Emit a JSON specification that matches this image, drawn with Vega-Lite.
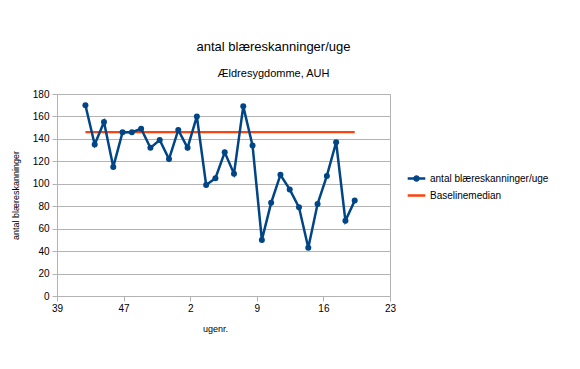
{
  "$schema": "https://vega.github.io/schema/vega-lite/v6.json",
  "width": 333,
  "height": 202,
  "autosize": "none",
  "padding": {"left": 57, "top": 94, "right": 190, "bottom": 73},
  "background": "white",
  "config": {
    "font": "Liberation Sans",
    "view": {"stroke": "#b3b3b3", "strokeWidth": 1},
    "axis": {
      "domainColor": "#b3b3b3",
      "tickColor": "#b3b3b3",
      "gridColor": "#b3b3b3",
      "labelColor": "#000000",
      "titleColor": "#000000",
      "labelFontSize": 10,
      "titleFontSize": 9,
      "titleFontWeight": "normal",
      "tickSize": 5
    }
  },
  "title": {
    "text": "antal blæreskanninger/uge",
    "subtitle": "Ældresygdomme, AUH",
    "fontSize": 13,
    "fontWeight": "normal",
    "subtitleFontSize": 11,
    "color": "#000000",
    "subtitleColor": "#000000",
    "anchor": "middle",
    "dx": 50,
    "offset": 10,
    "subtitlePadding": 14
  },
  "data": {
    "values": [
      {"t": 0, "uge": 42, "antal blæreskanninger/uge": 170, "Baselinemedian": 146},
      {"t": 1, "uge": 43, "antal blæreskanninger/uge": 135, "Baselinemedian": 146},
      {"t": 2, "uge": 44, "antal blæreskanninger/uge": 155, "Baselinemedian": 146},
      {"t": 3, "uge": 45, "antal blæreskanninger/uge": 115, "Baselinemedian": 146},
      {"t": 4, "uge": 46, "antal blæreskanninger/uge": 146, "Baselinemedian": 146},
      {"t": 5, "uge": 47, "antal blæreskanninger/uge": 146, "Baselinemedian": 146},
      {"t": 6, "uge": 48, "antal blæreskanninger/uge": 149, "Baselinemedian": 146},
      {"t": 7, "uge": 49, "antal blæreskanninger/uge": 132, "Baselinemedian": 146},
      {"t": 8, "uge": 50, "antal blæreskanninger/uge": 139, "Baselinemedian": 146},
      {"t": 9, "uge": 51, "antal blæreskanninger/uge": 122, "Baselinemedian": 146},
      {"t": 10, "uge": 52, "antal blæreskanninger/uge": 148, "Baselinemedian": 146},
      {"t": 11, "uge": 1, "antal blæreskanninger/uge": 132, "Baselinemedian": 146},
      {"t": 12, "uge": 2, "antal blæreskanninger/uge": 160, "Baselinemedian": 146},
      {"t": 13, "uge": 3, "antal blæreskanninger/uge": 99, "Baselinemedian": 146},
      {"t": 14, "uge": 4, "antal blæreskanninger/uge": 105, "Baselinemedian": 146},
      {"t": 15, "uge": 5, "antal blæreskanninger/uge": 128, "Baselinemedian": 146},
      {"t": 16, "uge": 6, "antal blæreskanninger/uge": 109, "Baselinemedian": 146},
      {"t": 17, "uge": 7, "antal blæreskanninger/uge": 169, "Baselinemedian": 146},
      {"t": 18, "uge": 8, "antal blæreskanninger/uge": 134, "Baselinemedian": 146},
      {"t": 19, "uge": 9, "antal blæreskanninger/uge": 50, "Baselinemedian": 146},
      {"t": 20, "uge": 10, "antal blæreskanninger/uge": 83, "Baselinemedian": 146},
      {"t": 21, "uge": 11, "antal blæreskanninger/uge": 108, "Baselinemedian": 146},
      {"t": 22, "uge": 12, "antal blæreskanninger/uge": 95, "Baselinemedian": 146},
      {"t": 23, "uge": 13, "antal blæreskanninger/uge": 79, "Baselinemedian": 146},
      {"t": 24, "uge": 14, "antal blæreskanninger/uge": 43, "Baselinemedian": 146},
      {"t": 25, "uge": 15, "antal blæreskanninger/uge": 82, "Baselinemedian": 146},
      {"t": 26, "uge": 16, "antal blæreskanninger/uge": 107, "Baselinemedian": 146},
      {"t": 27, "uge": 17, "antal blæreskanninger/uge": 137, "Baselinemedian": 146},
      {"t": 28, "uge": 18, "antal blæreskanninger/uge": 67, "Baselinemedian": 146},
      {"t": 29, "uge": 19, "antal blæreskanninger/uge": 85, "Baselinemedian": 146}
    ]
  },
  "transform": [
    {"fold": ["antal blæreskanninger/uge", "Baselinemedian"], "as": ["serie", "v"]}
  ],
  "encoding": {
    "x": {
      "field": "t",
      "type": "quantitative",
      "scale": {"domain": [-3.06, 32.8], "nice": false, "zero": false},
      "axis": {
        "title": "ugenr.",
        "titlePadding": 11,
        "titleX": 158,
        "grid": false,
        "values": [-3.06, 4.11, 11.28, 18.45, 25.63, 32.8],
        "labelExpr": "['39','47','2','9','16','23'][indexof([-3.06, 4.11, 11.28, 18.45, 25.63, 32.8], datum.value)]",
        "labelPadding": 2,
        "labelFlush": false
      }
    },
    "y": {
      "field": "v",
      "type": "quantitative",
      "scale": {"domain": [0, 180], "nice": false},
      "axis": {
        "title": "antal blæreskanninger",
        "values": [0, 20, 40, 60, 80, 100, 120, 140, 160, 180],
        "titlePadding": 12,
        "labelPadding": 3,
        "grid": true
      }
    },
    "color": {
      "field": "serie",
      "type": "nominal",
      "sort": ["antal blæreskanninger/uge", "Baselinemedian"],
      "scale": {"domain": ["antal blæreskanninger/uge", "Baselinemedian"], "range": ["#004586", "#ff420e"]},
      "legend": {
        "title": null,
        "orient": "none",
        "legendX": 350,
        "legendY": 75,
        "labelFontSize": 10,
        "labelColor": "#000000",
        "symbolSize": 256,
        "symbolStrokeWidth": 2.5,
        "labelOffset": 4,
        "rowPadding": 0,
        "encode": {
          "symbols": {
            "update": {
              "shape": {"signal": "datum.value === 'Baselinemedian' ? 'M-1.1,0L1.1,0' : 'M-1.1,0L1.1,0M-0.26,0A0.26,0.26 0 1,0 0.26,0A0.26,0.26 0 1,0 -0.26,0Z'"},
              "fill": {"signal": "datum.value === 'Baselinemedian' ? 'transparent' : '#004586'"},
              "fillOpacity": {"value": 1}
            }
          }
        }
      }
    }
  },
  "layer": [
    {
      "transform": [{"filter": "datum.serie === 'Baselinemedian'"}],
      "mark": {"type": "line", "strokeWidth": 2.2}
    },
    {
      "transform": [{"filter": "datum.serie !== 'Baselinemedian'"}],
      "mark": {"type": "line", "strokeWidth": 2.5, "point": {"filled": true, "size": 36}}
    }
  ]
}
